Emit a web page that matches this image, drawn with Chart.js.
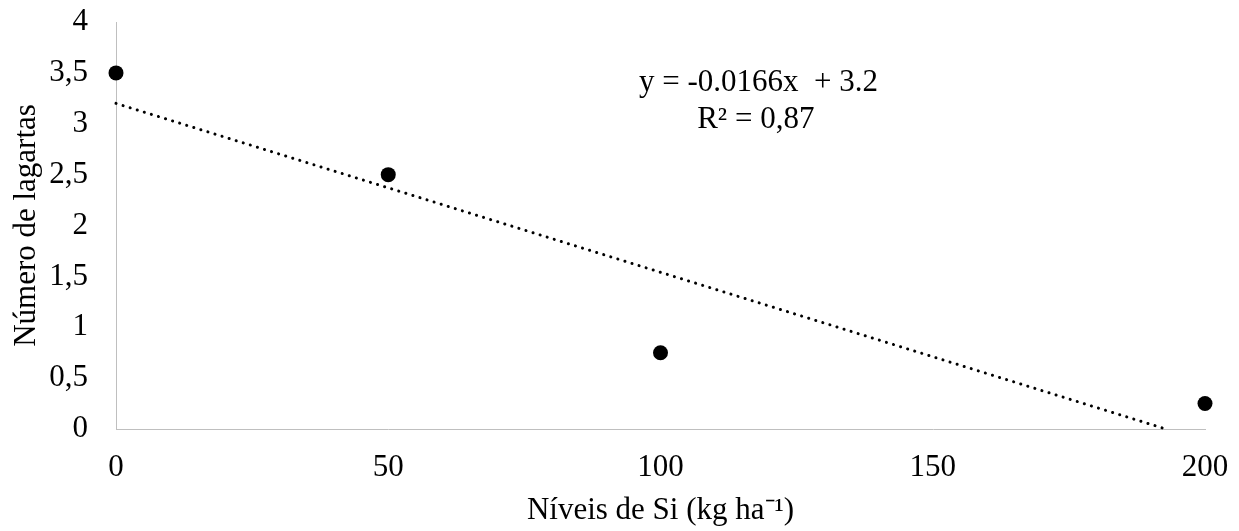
<!DOCTYPE html>
<html>
<head>
<meta charset="utf-8">
<script src="https://cdn.jsdelivr.net/npm/chart.js@4/dist/chart.umd.min.js"></script>
<style>
    html, body { margin: 0; padding: 0; background: #fff; }
    #wrap { width: 1239px; height: 531px; }
</style>
</head>
<body>
<div id="wrap"><canvas id="myChart" width="1239" height="531"></canvas></div>
<script>
// observed values
const siLevels = [0, 50, 100, 200];
const larvae = [3.5, 2.5, 0.75, 0.25];

// trendline y = -0.0166x + 3.2, drawn from x=0 until it hits zero
const trendX = [0, 192.8];
const trendY = [3.2, 0];

const xTicks = [0, 50, 100, 150, 200];
const yTicks = [0, 0.5, 1, 1.5, 2, 2.5, 3, 3.5, 4];

const eqLines = ['y = -0.0166x  + 3.2', 'R\u00B2 = 0,87'];

const serif = 'Liberation Serif';
const fontSize = 31;

// equation text, placed like the excel label
const eqLabel = {
    id: 'eqLabel',
    afterDatasetsDraw(chart) {
        const ctx = chart.ctx;
        const xs = chart.scales.x;
        const ys = chart.scales.y;
        ctx.save();
        ctx.font = fontSize + 'px "' + serif + '"';
        ctx.fillStyle = '#000';
        ctx.textAlign = 'center';
        ctx.textBaseline = 'middle';
        ctx.fillText(eqLines[0], xs.getPixelForValue(118), ys.getPixelForValue(3.40));
        ctx.fillText(eqLines[1], xs.getPixelForValue(117.5), ys.getPixelForValue(3.04));
        ctx.restore();
    }
};

const ctx = document.getElementById('myChart');

new Chart(ctx, {
    type: 'scatter',
    data: {
        datasets: [{
            label: 'larvae',
            data: siLevels.map((x, i) => ({ x: x, y: larvae[i] })),
            pointRadius: 7.5,
            pointHoverRadius: 7.5,
            backgroundColor: '#000',
            borderColor: '#000',
            borderWidth: 0,
            clip: false
        }, {
            type: 'line',
            label: 'trend',
            data: trendX.map((x, i) => ({ x: x, y: trendY[i] })),
            borderColor: '#000',
            borderWidth: 3,
            borderDash: [0.1, 7.3],
            borderCapStyle: 'round',
            pointRadius: 0,
            fill: false,
            clip: false
        }]
    },
    options: {
        responsive: false,
        animation: false,
        events: [],
        layout: { padding: { top: 22, right: 34, bottom: 0, left: 0 } },
        plugins: {
            legend: { display: false },
            tooltip: { enabled: false }
        },
        scales: {
            x: {
                type: 'linear',
                min: 0,
                max: 200,
                afterBuildTicks: (scale) => { scale.ticks = xTicks.map(v => ({ value: v })); },
                afterFit: (scale) => {
                    scale.height = 102;
                    scale.paddingLeft = 0;
                    scale.paddingRight = 0;
                },
                grid: { drawOnChartArea: false, drawTicks: false },
                border: { color: '#bfbfbf', width: 1 },
                ticks: {
                    padding: 20,
                    color: '#000',
                    font: { family: serif, size: fontSize }
                },
                title: {
                    display: true,
                    text: 'Níveis de Si (kg ha\u207B\u00B9)',
                    color: '#000',
                    font: { family: serif, size: fontSize },
                    padding: { top: 0, bottom: 2 }
                }
            },
            y: {
                min: 0,
                max: 4,
                afterBuildTicks: (scale) => { scale.ticks = yTicks.map(v => ({ value: v })); },
                afterFit: (scale) => {
                    scale.width = 116;
                    scale.paddingTop = 0;
                    scale.paddingBottom = 0;
                },
                grid: { drawOnChartArea: false, drawTicks: false },
                border: { color: '#bfbfbf', width: 1 },
                ticks: {
                    padding: 28,
                    color: '#000',
                    font: { family: serif, size: fontSize },
                    callback: (v) => String(v).replace('.', ',')
                },
                title: {
                    display: true,
                    text: 'Número de lagartas',
                    color: '#000',
                    font: { family: serif, size: fontSize },
                    padding: { top: 8, bottom: 0 }
                }
            }
        }
    },
    plugins: [eqLabel]
});
</script>
</body>
</html>
